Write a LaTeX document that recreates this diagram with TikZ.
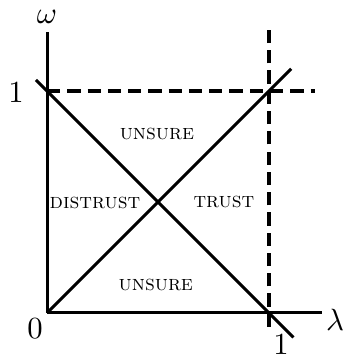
\documentclass[tikz,border=0pt]{standalone}
\begin{document}
\begin{tikzpicture}[scale=2.54]
            \useasboundingbox (-0.212,-0.212) rectangle (1.338,1.41);
            \draw[line width=1pt] (0,0)--(1.24,0);
            \draw[line width=1pt] (0,0)--(0,1.266);
            \draw[line width=1.2pt,dash pattern=on 4.3pt off 2.3pt] (1,-0.063)--(1,1.275);
            \draw[line width=1.2pt,dash pattern=on 4.3pt off 2.3pt] (0,1)--(1.207,1);
            \draw[line width=1pt] (0,0)--(1.1,1.1);
            \draw[line width=1pt] (-0.05,1.05)--(1.11,-0.11);
            \node[inner sep=0pt] (zero) at (-0.054,-0.072) {0};
            \node[inner sep=0pt] (onex) at (1.054,-0.14) {1};
            \node[inner sep=0pt] (oney) at (-0.14,0.993) {1};
            \node[inner sep=0pt] (omega) at (0,1.335) {$\omega$};
            \node[inner sep=0pt,anchor=west] (lambda) at (1.255,-0.03) {$\lambda$};
            \node[font=\scriptsize] (unsuretop) at (0.495,0.806) {\textsc{unsure}};
            \node[font=\scriptsize] (distrust) at (0.216,0.495) {\textsc{distrust}};
            \node[font=\scriptsize] (trust) at (0.797,0.5) {\textsc{trust}};
            \node[font=\scriptsize] (unsurebot) at (0.49,0.126) {\textsc{unsure}};
        \end{tikzpicture}
\end{document}
